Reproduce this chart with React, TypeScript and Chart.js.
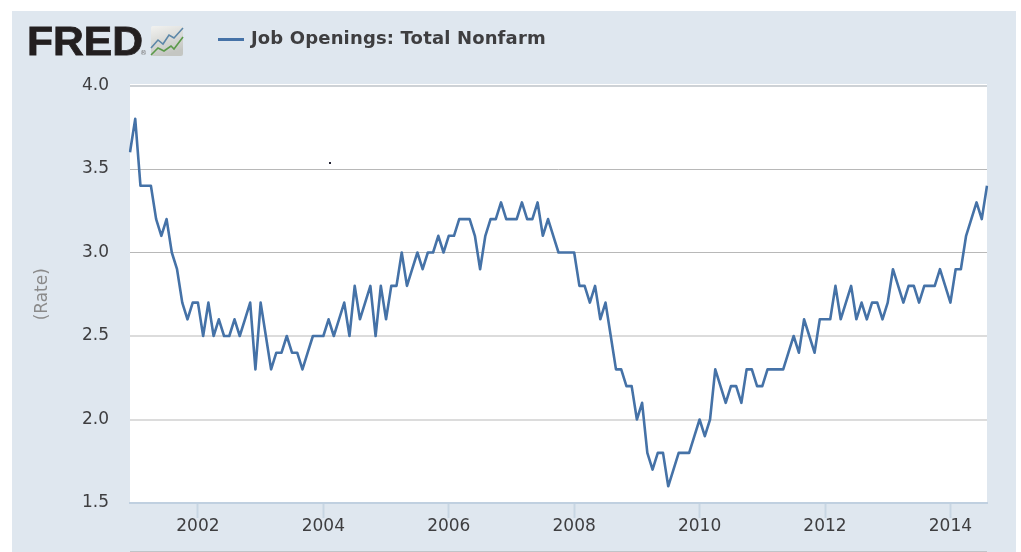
import React, { useEffect, useRef } from "react";
import { Chart, registerables } from "chart.js";

Chart.register(...registerables);

const seriesLabel = "Job Openings: Total Nonfarm";
const axisTitle = "(Rate)";
const startYear = 2000;
const startMonth = 11; // December 2000
const yTicks = [1.5, 2.0, 2.5, 3.0, 3.5, 4.0];
const labeledYears = [2002, 2004, 2006, 2008, 2010, 2012, 2014];
const rates = [
  3.6, 3.8, 3.4, 3.4, 3.4, 3.2, 3.1, 3.2, 3.0, 2.9, 2.7, 2.6, 2.7,
  2.7, 2.5, 2.7, 2.5, 2.6, 2.5, 2.5, 2.6, 2.5, 2.6, 2.7, 2.3, 2.7,
  2.5, 2.3, 2.4, 2.4, 2.5, 2.4, 2.4, 2.3, 2.4, 2.5, 2.5, 2.5,
  2.6, 2.5, 2.6, 2.7, 2.5, 2.8, 2.6, 2.7, 2.8, 2.5, 2.8, 2.6,
  2.8, 2.8, 3.0, 2.8, 2.9, 3.0, 2.9, 3.0, 3.0, 3.1, 3.0, 3.1,
  3.1, 3.2, 3.2, 3.2, 3.1, 2.9, 3.1, 3.2, 3.2, 3.3, 3.2, 3.2,
  3.2, 3.3, 3.2, 3.2, 3.3, 3.1, 3.2, 3.1, 3.0, 3.0, 3.0, 3.0,
  2.8, 2.8, 2.7, 2.8, 2.6, 2.7, 2.5, 2.3, 2.3, 2.2, 2.2, 2.0,
  2.1, 1.8, 1.7, 1.8, 1.8, 1.6, 1.7, 1.8, 1.8, 1.8, 1.9, 2.0,
  1.9, 2.0, 2.3, 2.2, 2.1, 2.2, 2.2, 2.1, 2.3, 2.3, 2.2, 2.2,
  2.3, 2.3, 2.3, 2.3, 2.4, 2.5, 2.4, 2.6, 2.5, 2.4, 2.6, 2.6,
  2.6, 2.8, 2.6, 2.7, 2.8, 2.6, 2.7, 2.6, 2.7, 2.7, 2.6, 2.7,
  2.9, 2.8, 2.7, 2.8, 2.8, 2.7, 2.8, 2.8, 2.8, 2.9, 2.8, 2.7,
  2.9, 2.9, 3.1, 3.2, 3.3, 3.2, 3.4,
];
const months = rates.map((_, i) => {
  const m = startMonth + i;
  return `${startYear + Math.floor(m / 12)}-${String((m % 12) + 1).padStart(2, "0")}`;
});

const FONT = '"DejaVu Sans", sans-serif';

const gridColor = (v: number) => {
  if (v === 4.0) return "#ced2d6";
  if (v === 2.5 || v === 2.0) return "#dcdcdc";
  if (v === 1.5) return "rgba(0,0,0,0)";
  return "#b8b8b8";
};
const gridWidth = (v: number) => (v === 4.0 || v === 2.5 || v === 2.0 ? 2 : 1);

export default function App() {
  const ref = useRef<HTMLCanvasElement>(null);
  useEffect(() => {
    document.body.style.margin = "0";
    const chart = new Chart(ref.current!, {
      type: "line",
      data: {
        labels: months,
        datasets: [
          {
            label: seriesLabel,
            data: rates,
            borderColor: "#4572a7",
            borderWidth: 2.6,
            pointRadius: 0,
            tension: 0,
            borderJoinStyle: "round",
          },
        ],
      },
      options: {
        animation: false,
        responsive: false,
        events: [],
        layout: { padding: { top: 85.5, right: 34, left: 0, bottom: 0 } },
        plugins: {
          legend: { display: false },
          tooltip: { enabled: false },
        },
        scales: {
          x: {
            type: "category",
            offset: false,
            afterFit: (s: any) => {
              s.height = 49;
            },
            afterBuildTicks: (s: any) => {
              s.ticks = s.ticks.filter((t: any) => {
                const lab = months[t.value];
                return lab.endsWith("-01") && labeledYears.includes(Number(lab.slice(0, 4)));
              });
            },
            ticks: {
              autoSkip: false,
              maxRotation: 0,
              minRotation: 0,
              padding: -2,
              color: "#3e3e40",
              font: { family: FONT, size: 17 },
              callback: (v: any) => months[v].slice(0, 4),
            },
            grid: {
              drawOnChartArea: false,
              drawTicks: true,
              tickLength: 15,
              tickColor: "#c8d6e3",
              tickWidth: 2,
            },
            border: { color: "#c0d0e0", width: 2 },
          },
          y: {
            min: 1.5,
            max: 4.0,
            afterFit: (s: any) => {
              s.width = 130;
            },
            afterBuildTicks: (s: any) => {
              s.ticks = yTicks.map((value) => ({ value }));
            },
            title: {
              display: true,
              text: axisTitle,
              color: "#8a8a8a",
              font: { family: FONT, size: 17 },
              padding: { top: 32, bottom: 0 },
            },
            ticks: {
              padding: 21,
              color: "#3e3e40",
              font: { family: FONT, size: 17 },
              callback: (v: any) => Number(v).toFixed(1),
            },
            grid: {
              color: (c: any) => gridColor(c.tick?.value),
              lineWidth: (c: any) => gridWidth(c.tick?.value),
              drawTicks: false,
            },
            border: { display: false },
          },
        },
      },
    });
    return () => chart.destroy();
  }, []);

  return (
    <div style={{ position: "absolute", left: 0, top: 0, width: 1021, height: 552, background: "#fff", overflow: "hidden" }}>
      <div style={{ position: "absolute", left: 12, top: 11, width: 1004, height: 541, background: "#dfe7ef" }} />
      <div style={{ position: "absolute", left: 130, top: 84, width: 857, height: 419, background: "#fff" }} />
      <canvas ref={ref} width={1021} height={552} style={{ position: "absolute", left: 0, top: 0, display: "block" }} />
      <div style={{ position: "absolute", left: 130, top: 551, width: 857, height: 1, background: "#c0c4c8" }} />
      <div style={{ position: "absolute", left: 329, top: 162, width: 2, height: 2, background: "#223" }} />
      <div
        style={{
          position: "absolute", left: 27, top: 18, fontFamily: '"Liberation Sans", sans-serif', fontWeight: 700,
          fontSize: 41, lineHeight: "46px", color: "#231f20", WebkitTextStroke: "0.8px #231f20",
          transform: "scaleX(1.04)", transformOrigin: "left center",
        }}
      >
        FRED
      </div>
      <div style={{ position: "absolute", left: 140, top: 49, fontFamily: FONT, fontSize: 7, color: "#777" }}>®</div>
      <svg style={{ position: "absolute", left: 150, top: 26 }} width={34} height={31}>
        <defs>
          <linearGradient id="g" x1="0" y1="0" x2="0.3" y2="1">
            <stop offset="0" stopColor="#f2f2f0" />
            <stop offset="1" stopColor="#c4c6c2" />
          </linearGradient>
        </defs>
        <rect x="1" width="32" height="30" rx="2" fill="url(#g)" />
        <polyline points="1,22 8,14 13,18 19,9 24,12 33,2" fill="none" stroke="#5c87a8" strokeWidth="1.6" />
        <polyline points="1,29 8,22 14,25 21,20 24,23 33,11" fill="none" stroke="#5b9a4a" strokeWidth="1.6" />
      </svg>
      <div style={{ position: "absolute", left: 218, top: 38, width: 26, height: 3, background: "#4572a7" }} />
      <div
        style={{
          position: "absolute", left: 251, top: 26, fontFamily: FONT, fontWeight: 700, fontSize: 18,
          letterSpacing: 0.15, lineHeight: "24px", color: "#3e3e40", whiteSpace: "nowrap",
        }}
      >
        {seriesLabel}
      </div>
    </div>
  );
}
